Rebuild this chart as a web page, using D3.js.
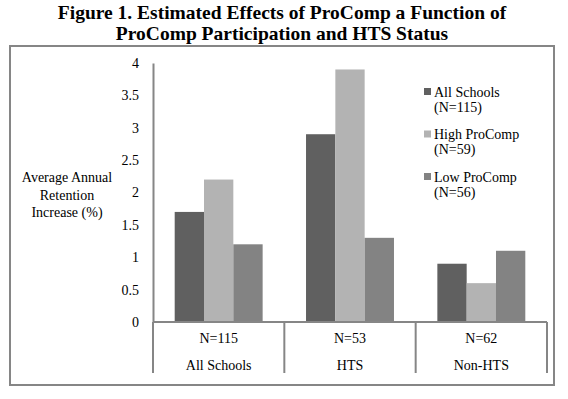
<!DOCTYPE html>
<html>
  <head>
    <meta charset="utf-8" />
    <title>ProComp retention chart</title>
    <script src="https://cdnjs.cloudflare.com/ajax/libs/d3/7.8.5/d3.min.js"></script>
    <style>
      body { margin: 0; background: #fff; }
      text { font-family: "Liberation Serif", "Times New Roman", serif; fill: #000; }
    </style>
  </head>
  <body>
    <div id="chart"></div>
    <script>
      // data
      const groups = ["All Schools", "HTS", "Non-HTS"];
      const groupN = ["N=115", "N=53", "N=62"];
      const seriesNames = ["All Schools", "High ProComp", "Low ProComp"];
      const seriesN = ["(N=115)", "(N=59)", "(N=56)"];
      const allSchools = [1.7, 2.9, 0.9];
      const highProComp = [2.2, 3.9, 0.6];
      const lowProComp = [1.2, 1.3, 1.1];
      const yTicks = [0, 0.5, 1, 1.5, 2, 2.5, 3, 3.5, 4];

      const colors = ["#606060", "#b3b3b3", "#838383"];
      const seriesValues = [allSchools, highProComp, lowProComp];

      const width = 568, height = 399;
      const svg = d3.select("#chart").append("svg")
        .attr("width", width)
        .attr("height", height);

      // title
      const title = svg.append("text")
        .attr("text-anchor", "middle")
        .attr("font-weight", "bold")
        .attr("font-size", "19.5px");
      title.append("tspan").attr("x", 282).attr("y", 19).text("Figure 1. Estimated Effects of ProComp a Function of");
      title.append("tspan").attr("x", 282).attr("y", 40).text("ProComp Participation and HTS Status");

      // outer frame
      svg.append("rect")
        .attr("x", 10).attr("y", 46)
        .attr("width", 544).attr("height", 339)
        .attr("fill", "none")
        .attr("stroke", "#868686")
        .attr("stroke-width", 2);

      const x0 = d3.scaleBand().domain(groups).range([153, 547]);
      const x1 = d3.scaleBand().domain(seriesNames).range([0, x0.bandwidth()]).paddingOuter(0.74);
      const y = d3.scaleLinear().domain([0, 4]).range([322, 63]);

      // bars
      const rows = groups.map((g, i) => ({
        group: g,
        vals: seriesNames.map((s, j) => ({ series: s, value: seriesValues[j][i], color: colors[j] }))
      }));

      svg.append("g").selectAll("g")
        .data(rows)
        .join("g")
        .attr("transform", d => `translate(${x0(d.group)},0)`)
        .selectAll("rect")
        .data(d => d.vals)
        .join("rect")
        .attr("x", d => x1(d.series))
        .attr("width", x1.bandwidth())
        .attr("y", d => y(d.value))
        .attr("height", d => y(0) - y(d.value))
        .attr("fill", d => d.color);

      // y axis
      const yAxis = svg.append("g")
        .attr("transform", "translate(153,0)")
        .call(d3.axisLeft(y).tickValues(yTicks).tickSize(0).tickPadding(14).tickFormat(d3.format("")));
      yAxis.select(".domain").attr("stroke", "#868686").attr("stroke-width", 2);
      yAxis.selectAll("text")
        .attr("font-family", "Liberation Serif, serif")
        .attr("font-size", "14px")
        .attr("fill", "#000");

      // y axis title
      const yTitle = svg.append("text")
        .attr("text-anchor", "middle")
        .attr("font-size", "14px");
      ["Average Annual", "Retention", "Increase (%)"].forEach((t, i) => {
        yTitle.append("tspan").attr("x", 67).attr("y", 182 + i * 17.5).text(t);
      });

      // x axis line and category dividers
      svg.append("line")
        .attr("x1", 153).attr("x2", 547)
        .attr("y1", y(0)).attr("y2", y(0))
        .attr("stroke", "#868686").attr("stroke-width", 2);

      const edges = groups.map(g => x0(g)).concat([x0.range()[1]]);
      svg.append("g").selectAll("line")
        .data(edges)
        .join("line")
        .attr("x1", d => d).attr("x2", d => d)
        .attr("y1", y(0)).attr("y2", 373)
        .attr("stroke", "#868686").attr("stroke-width", 2);

      const cats = svg.append("g").selectAll("g")
        .data(groups)
        .join("g")
        .attr("transform", g => `translate(${x0(g) + x0.bandwidth() / 2},0)`);
      cats.append("text")
        .attr("text-anchor", "middle")
        .attr("y", 343)
        .attr("font-size", "14px")
        .text((g, i) => groupN[i]);
      cats.append("text")
        .attr("text-anchor", "middle")
        .attr("y", 370)
        .attr("font-size", "14px")
        .text(g => g);

      // legend
      const legend = svg.append("g").selectAll("g")
        .data(seriesNames)
        .join("g")
        .attr("transform", (d, i) => `translate(424,${92 + i * 42.5})`);
      legend.append("rect")
        .attr("x", 0).attr("y", -4)
        .attr("width", 7).attr("height", 7)
        .attr("fill", (d, i) => colors[i]);
      const lt = legend.append("text").attr("font-size", "14px");
      lt.append("tspan").attr("x", 10).attr("y", 4.5).text(d => d);
      lt.append("tspan").attr("x", 10).attr("y", 19.5).text((d, i) => seriesN[i]);
    </script>
  </body>
</html>
